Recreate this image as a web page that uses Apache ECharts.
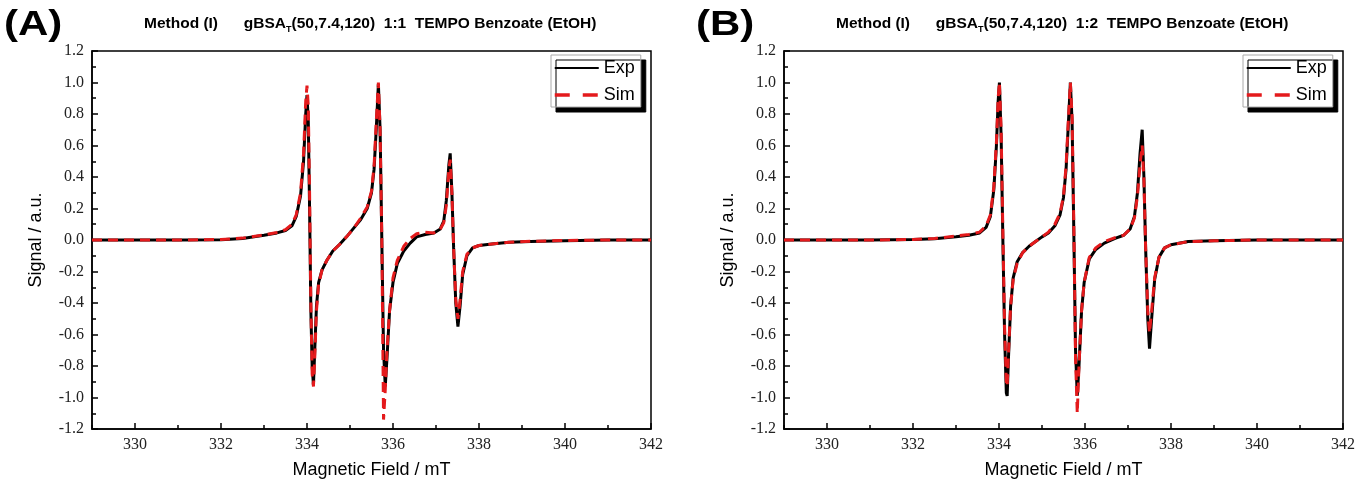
<!DOCTYPE html>
<html><head><meta charset="utf-8">
<script src="https://cdn.jsdelivr.net/npm/echarts@6/dist/echarts.min.js"></script>
<style>html,body{margin:0;padding:0;background:#fff}#c{width:1372px;height:490px}</style>
</head><body><div id="c"></div>
<script>
// ---- Panel A data (Magnetic field mT, signal a.u.) ----
const fieldA = [329.0,330.0,331.0,332.0,332.5,333.0,333.3,333.5,333.65,333.75,333.85,333.92,333.97,334.00,334.03,334.06,334.09,334.12,334.15,334.18,334.22,334.27,334.35,334.46,334.60,334.75,334.92,335.10,335.25,335.40,335.50,335.56,335.61,335.66,335.70,335.74,335.78,335.82,335.86,335.92,336.00,336.10,336.25,336.40,336.55,336.75,336.95,337.10,337.18,337.24,337.30,337.33,337.37,337.41,337.46,337.51,337.56,337.62,337.72,337.85,338.00,338.30,338.70,339.20,340.00,341.00,342.00];
const expA   = [0,0,0,0.002,0.01,0.03,0.045,0.06,0.09,0.15,0.28,0.50,0.80,0.92,0.75,0.20,-0.45,-0.80,-0.92,-0.70,-0.42,-0.27,-0.19,-0.13,-0.07,-0.03,0.02,0.08,0.13,0.20,0.30,0.45,0.70,0.99,0.70,0.00,-0.70,-0.93,-0.75,-0.45,-0.27,-0.15,-0.07,-0.02,0.02,0.035,0.045,0.07,0.12,0.25,0.48,0.55,0.30,-0.05,-0.40,-0.55,-0.42,-0.22,-0.10,-0.05,-0.035,-0.025,-0.015,-0.01,-0.005,0,0];
const simA   = [0,0,0,0.003,0.012,0.032,0.048,0.065,0.10,0.16,0.30,0.55,0.88,0.98,0.85,0.30,-0.40,-0.85,-0.93,-0.75,-0.45,-0.28,-0.19,-0.13,-0.07,-0.03,0.02,0.08,0.14,0.21,0.31,0.47,0.75,1.00,0.70,0.00,-1.14,-0.95,-0.70,-0.45,-0.24,-0.13,-0.04,0.01,0.04,0.05,0.045,0.07,0.11,0.22,0.45,0.51,0.30,-0.05,-0.38,-0.50,-0.38,-0.20,-0.09,-0.05,-0.035,-0.025,-0.015,-0.008,-0.003,0,0];

// ---- Panel B data ----
const fieldB = [329.0,330.0,331.0,332.0,332.5,333.0,333.3,333.55,333.70,333.80,333.88,333.94,333.98,334.01,334.05,334.09,334.13,334.17,334.19,334.22,334.27,334.33,334.42,334.55,334.70,334.85,335.00,335.15,335.30,335.42,335.50,335.56,335.61,335.66,335.70,335.74,335.78,335.82,335.86,335.92,335.98,336.10,336.25,336.45,336.70,336.90,337.05,337.15,337.22,337.28,337.33,337.37,337.41,337.46,337.50,337.55,337.62,337.72,337.85,338.00,338.40,339.00,340.00,341.00,342.00];
const expB   = [0,0,0,0.003,0.008,0.02,0.03,0.045,0.08,0.15,0.32,0.60,0.88,1.00,0.65,0.00,-0.60,-0.97,-0.99,-0.75,-0.42,-0.24,-0.14,-0.08,-0.04,-0.01,0.02,0.045,0.09,0.16,0.27,0.45,0.72,1.00,0.75,0.05,-0.70,-0.99,-0.80,-0.45,-0.27,-0.12,-0.06,-0.02,0.01,0.03,0.07,0.15,0.30,0.55,0.70,0.40,-0.05,-0.50,-0.69,-0.50,-0.25,-0.11,-0.05,-0.03,-0.01,-0.005,0,0,0];
const simB   = [0,0,0,0.003,0.01,0.025,0.035,0.05,0.09,0.16,0.34,0.62,0.90,1.00,0.70,0.05,-0.55,-0.90,-0.93,-0.72,-0.42,-0.25,-0.15,-0.08,-0.04,-0.01,0.02,0.05,0.10,0.17,0.28,0.47,0.75,1.00,0.78,0.10,-0.75,-1.10,-0.80,-0.45,-0.27,-0.11,-0.05,-0.01,0.015,0.03,0.07,0.14,0.28,0.48,0.60,0.38,-0.05,-0.45,-0.59,-0.45,-0.24,-0.11,-0.05,-0.03,-0.01,-0.005,0,0,0];

// ---- Axis ticks / labels ----
const xMajorTicks = [330,332,334,336,338,340,342];
const xMinorTicks = [329,331,333,335,337,339,341];
const seriesNames = ['Exp','Sim'];
const panelLabels = ['(A)','(B)'];
const ratioLabels = ['1:1','1:2'];
const xName = 'Magnetic Field / mT';
const yName = 'Signal / a.u.';

const grids = [
  {left: 92, top: 51, width: 559, height: 378},
  {left: 784, top: 51, width: 559, height: 378}
];
const serif = 'Liberation Serif';
const sans = 'Liberation Sans';
const RED = '#e41a1c';

const option = {
  backgroundColor: '#fff',
  animation: false,
  title: [0,1].map(i => ({
    text: `Method (I)      gBSA{sub|T}(50,7.4,120)  ${ratioLabels[i]}  TEMPO Benzoate (EtOH)`,
    left: i === 0 ? 139 : 831,
    top: 9,
    textStyle: {
      fontFamily: sans, fontWeight: 'bold', fontSize: 15.5, color: '#000',
      rich: { sub: { fontFamily: sans, fontWeight: 'bold', fontSize: 9, color: '#000', padding: [11, 0, 0, 0] } }
    }
  })),
  graphic: [0,1].map(i => ({
    type: 'text', left: i === 0 ? 4 : 696, top: 8, scaleX: 1.2,
    style: { text: panelLabels[i], font: 'bold 35px Liberation Sans', fill: '#000' }
  })),
  legend: [0,1].map(i => ({
    orient: 'vertical',
    left: grids[i].left + 459, top: 55,
    data: [
      { name: seriesNames[0], lineStyle: { width: 2.2 } },
      { name: seriesNames[1], lineStyle: { width: 3.5, type: [15, 13] } }
    ],
    selectedMode: false,
    itemWidth: 44, itemHeight: 14, itemGap: 9,
    itemStyle: { opacity: 0 },
    textStyle: { fontFamily: sans, fontSize: 18, color: '#000' },
    backgroundColor: '#fff', borderColor: '#aaa', borderWidth: 1,
    padding: [4, 6, 3, 2],
    shadowColor: '#000', shadowOffsetX: 5, shadowOffsetY: 5, shadowBlur: 0
  })),
  grid: grids.map(g => ({...g, show: true, borderColor: '#000', borderWidth: 1.5, backgroundColor: 'transparent'})),
  xAxis: [0,1].flatMap(i => [
    {
      type: 'value', gridIndex: i, min: 329, max: 342, position: 'bottom',
      name: xName, nameLocation: 'middle', nameGap: 32,
      nameTextStyle: { fontFamily: sans, fontSize: 18, color: '#000' },
      axisLine: { onZero: false, lineStyle: { color: '#000', width: 1.5 } },
      axisTick: { inside: true, length: 6, customValues: xMajorTicks, lineStyle: { color: '#000', width: 1.5 } },
      axisLabel: { customValues: xMajorTicks, fontFamily: serif, fontSize: 16, color: '#222', margin: 8 },
      splitLine: { show: false }
    },
    {
      type: 'value', gridIndex: i, min: 329, max: 342, position: 'bottom', offset: 0,
      axisLine: { show: false, onZero: false },
      axisTick: { inside: true, length: 4, customValues: xMinorTicks, lineStyle: { color: '#000', width: 1.5 } },
      axisLabel: { show: false },
      splitLine: { show: false }
    }
  ]),
  yAxis: [0,1].map(i => ({
    type: 'value', gridIndex: i, min: -1.2, max: 1.2, interval: 0.2,
    name: yName, nameLocation: 'middle', nameGap: 47,
    nameTextStyle: { fontFamily: sans, fontSize: 18, color: '#000' },
    axisLine: { show: true, onZero: false, lineStyle: { color: '#000', width: 1.5 } },
    axisTick: { show: true, inside: true, length: 6, lineStyle: { color: '#000', width: 1.5 } },
    minorTick: { show: true, splitNumber: 2, length: 4, lineStyle: { color: '#000', width: 1.5 } },
    axisLabel: { fontFamily: serif, fontSize: 16, color: '#222', margin: 8, formatter: v => v.toFixed(1) },
    splitLine: { show: false }
  })),
  series: [
    {name: 'Exp', data: fieldA.map((x, k) => [x, expA[k]]), xAxisIndex: 0, yAxisIndex: 0},
    {name: 'Sim', data: fieldA.map((x, k) => [x, simA[k]]), xAxisIndex: 0, yAxisIndex: 0},
    {name: 'Exp', data: fieldB.map((x, k) => [x, expB[k]]), xAxisIndex: 2, yAxisIndex: 1},
    {name: 'Sim', data: fieldB.map((x, k) => [x, simB[k]]), xAxisIndex: 2, yAxisIndex: 1}
  ].map(s => ({
    ...s, type: 'line', symbol: 'none', silent: true,
    z: s.name === 'Sim' ? 3 : 2,
    lineStyle: s.name === 'Sim'
      ? { color: RED, width: 3, type: [10, 6] }
      : { color: '#000', width: 3 },
    itemStyle: { color: s.name === 'Sim' ? RED : '#000' }
  }))
};
const chart = echarts.init(document.getElementById('c'), null, {renderer: 'canvas'});
chart.setOption(option);
</script></body></html>
